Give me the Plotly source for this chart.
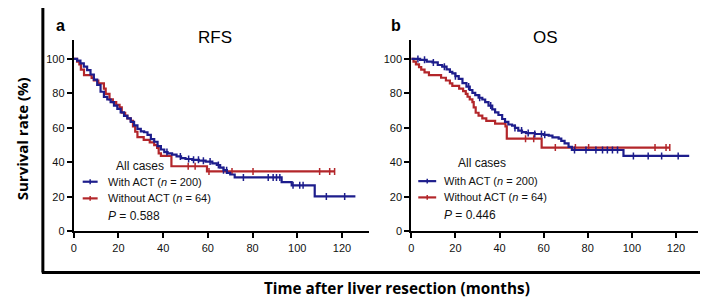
import plotly.graph_objects as go

W, H = 708, 298
BLUE = "#1d1d8c"
RED = "#b3262a"

# ---------------- data ----------------
# Panel a: RFS
rfs_with_t = [0, 1.5, 3, 4.5, 6, 7.5, 9, 10.5, 12, 13.5, 15, 16.5, 18, 19.5, 21, 22.5, 24, 25.5, 27,
              28.5, 30, 31.5, 33, 34.5, 36, 37.5, 39, 40.5, 42, 44, 46, 48, 50, 53, 56, 59, 62, 64,
              65.5, 67, 68.5, 70, 72, 93, 97.5, 107.8, 126]
rfs_with_s = [100, 99, 97.5, 95.5, 93.5, 91, 88, 85, 81, 78, 76.5, 75, 73, 71, 69, 67, 65.5, 63.5, 61.5,
              59.5, 58, 57.5, 56, 53.5, 52, 49.5, 47.5, 46, 45.3, 44.5, 43.5, 42.5, 42, 41.5, 41, 40.5,
              39.5, 38.5, 37, 35.5, 34, 33, 31.3, 28.6, 26.7, 20.3, 20.3]
rfs_with_cens = [41.7, 47.7, 51.4, 53.6, 55.8, 58, 61, 64.7, 67, 68.4, 75.9, 87, 89.2, 90.7, 92.2,
                 98.1, 101.1, 102.6, 113, 121.2]

rfs_without_t = [0, 1.5, 2.5, 3.2, 4.6, 8, 9, 11, 13.5, 14.3, 16, 17.5, 19, 20.5, 21.5, 23, 24, 25.5,
                 26.5, 27.5, 28.5, 31.3, 34, 36, 37.3, 38, 39, 43.7, 59.6, 116.7]
rfs_without_s = [100, 98.4, 96.9, 93.8, 90.6, 89, 87.5, 85.9, 82.8, 79.7, 76.6, 75, 73.4, 71.9, 68.8,
                 67.2, 65.6, 64.1, 60.9, 57.8, 54.7, 53.1, 51.6, 50, 48.4, 45.3, 43.8, 37.8, 34.8, 34.8]
rfs_without_cens = [51.2, 54.3, 60.5, 70.8, 80.2, 110, 114.5, 116.7]

# Panel b: OS
os_with_t = [0, 4, 7, 9.6, 12, 14, 16, 17.5, 18.6, 20, 21.5, 23.2, 25, 26.5, 27.7, 29, 30.5, 32.2, 33.5,
             35, 36.7, 38, 39.5, 41.2, 42.5, 44, 45.7, 47, 48.5, 50.2, 52, 56, 60, 62.3, 64, 66.8, 68,
             69.5, 71.3, 72.8, 96.2, 126]
os_with_s = [100, 99.5, 98.5, 98, 96.5, 95.5, 94, 92.5, 91.7, 90, 88.5, 86, 84, 82, 80.3, 79, 77.5, 76.5,
             75, 73, 70.8, 69, 67.5, 65.2, 63.5, 62, 61.4, 60, 58.5, 57.6, 57, 56.5, 56, 55.5, 54.5,
             53.8, 52.5, 51, 49, 47.2, 43.75, 43.75]
os_with_cens = [3, 6, 10, 15, 20, 26, 31, 36, 47, 50, 53, 56, 59, 60.5, 74, 79.2, 83.7, 86.7, 88.9,
                91.2, 93.5, 100.7, 107.4, 113.5, 121]

os_without_t = [0, 1, 2.1, 3.5, 4.5, 6, 8, 13.5, 15.7, 17.5, 18.6, 21.7, 23.5, 24.7, 25.5, 26.5, 27.7,
                28.3, 29.2, 30.5, 32.2, 34, 38, 42.7, 43.3, 59.1, 117.2]
os_without_s = [100, 98.4, 96.9, 95.3, 93.8, 92.2, 90.6, 89.1, 87.5, 85.9, 84.4, 82.8, 81.3, 79.7, 78.1,
                76.6, 75, 71.9, 68.8, 67.2, 65.6, 64.1, 62.5, 60.9, 53.8, 48.6, 48.6]
os_without_cens = [51.8, 55.5, 65.3, 74.4, 80.4, 110.5, 115.5, 117.2]

x_ticks = [0, 20, 40, 60, 80, 100, 120]
y_ticks = [0, 20, 40, 60, 80, 100]
legend_labels = ["With ACT (<i>n</i> = 200)", "Without ACT (<i>n</i> = 64)"]
p_values = ["0.588", "0.446"]
titles = ["RFS", "OS"]
panel_letters = ["a", "b"]


def surv_at(ts, ss, t):
    val = ss[0]
    for ti, si in zip(ts, ss):
        if ti <= t:
            val = si
    return val


def px(x):
    return x / W


def py(y):
    return 1 - y / H


fig = go.Figure()

panels = [
    (rfs_with_t, rfs_with_s, rfs_with_cens, rfs_without_t, rfs_without_s, rfs_without_cens, "x", "y"),
    (os_with_t, os_with_s, os_with_cens, os_without_t, os_without_s, os_without_cens, "x2", "y2"),
]

for (wt, ws, wc, ot, os_, oc, xa, ya) in panels:
    for t, s, c, col in [(ot, os_, oc, RED), (wt, ws, wc, BLUE)]:
        fig.add_trace(go.Scatter(x=t, y=s, mode="lines", line=dict(color=col, width=2.2, shape="hv"),
                                 xaxis=xa, yaxis=ya, showlegend=False, hoverinfo="skip"))
        fig.add_trace(go.Scatter(x=c, y=[surv_at(t, s, ci) for ci in c], mode="markers",
                                 marker=dict(symbol="line-ns", size=5, line=dict(color=col, width=1.5)),
                                 xaxis=xa, yaxis=ya, showlegend=False, hoverinfo="skip"))

tickfont = dict(family="Arial, Liberation Sans, sans-serif", size=11, color="#111")
axcommon = dict(showline=True, linecolor="black", linewidth=2, ticks="outside", ticklen=5, tickwidth=2,
                tickcolor="black", showgrid=False, zeroline=False, tickfont=tickfont)
ydom = [py(228), py(33)]
fig.update_layout(
    width=W, height=H, margin=dict(l=0, r=0, t=0, b=0),
    paper_bgcolor="white", plot_bgcolor="white",
    xaxis=dict(domain=[px(63), px(63 + 132 * 2.245)], range=[0, 132], tickvals=x_ticks, anchor="y", **axcommon),
    yaxis=dict(domain=ydom, range=[0, 110.8], tickvals=y_ticks, anchor="x", **axcommon),
    xaxis2=dict(domain=[px(402), px(402 + 130 * 2.215)], range=[0, 130], tickvals=x_ticks, anchor="y2", **axcommon),
    yaxis2=dict(domain=ydom, range=[0, 110.8], tickvals=y_ticks, anchor="x2", **axcommon),
)

shapes = [
    dict(type="line", xref="paper", yref="paper", x0=px(32), x1=px(32), y0=py(0), y1=py(270),
         line=dict(color="black", width=3)),
    dict(type="line", xref="paper", yref="paper", x0=px(31), x1=px(708), y0=py(270), y1=py(270),
         line=dict(color="black", width=3)),
]
ann = []
textfont = dict(family="Arial, Liberation Sans, sans-serif", color="#111")

layouts = [
    dict(letter=(50, 18), title=(205, 30), allc=(103, 161), line=(72, 87), text_x=95.7,
         rows=(177.3, 194.3), p=(95.7, 212.7)),
    dict(letter=(387, 18), title=(537, 30), allc=(447, 158), line=(409, 427), text_x=433.3,
         rows=(176.7, 193.3), p=(433, 211.7)),
]
for i, L in enumerate(layouts):
    ann.append(dict(text="<b>%s</b>" % panel_letters[i], x=px(L["letter"][0]), y=py(L["letter"][1]),
                    xref="paper", yref="paper", showarrow=False, xanchor="center", yanchor="middle",
                    font=dict(size=16, family="Arial, Liberation Sans, sans-serif", color="black")))
    ann.append(dict(text=titles[i], x=px(L["title"][0]), y=py(L["title"][1]),
                    xref="paper", yref="paper", showarrow=False, xanchor="center", yanchor="middle",
                    font=dict(size=17, family="Arial, Liberation Sans, sans-serif", color="black")))
    ann.append(dict(text="All cases", x=px(L["allc"][0]), y=py(L["allc"][1]),
                    xref="paper", yref="paper", showarrow=False, xanchor="left", yanchor="middle",
                    font=dict(size=12, **textfont)))
    for j, col in enumerate([BLUE, RED]):
        yy = L["rows"][j]
        x0, x1 = L["line"]
        shapes.append(dict(type="line", xref="paper", yref="paper", x0=px(x0), x1=px(x1),
                           y0=py(yy), y1=py(yy), line=dict(color=col, width=2.2)))
        xm = (x0 + x1) / 2
        shapes.append(dict(type="line", xref="paper", yref="paper", x0=px(xm), x1=px(xm),
                           y0=py(yy - 2.5), y1=py(yy + 2.5), line=dict(color=col, width=1.5)))
        ann.append(dict(text=legend_labels[j], x=px(L["text_x"]), y=py(yy),
                        xref="paper", yref="paper", showarrow=False, xanchor="left", yanchor="middle",
                        font=dict(size=11, **textfont)))
    ann.append(dict(text="<i>P</i> = %s" % p_values[i], x=px(L["p"][0]), y=py(L["p"][1]),
                    xref="paper", yref="paper", showarrow=False, xanchor="left", yanchor="middle",
                    font=dict(size=12, **textfont)))

ann.append(dict(text="<b>Time after liver resection (months)</b>", x=px(388), y=py(286),
                xref="paper", yref="paper", showarrow=False, xanchor="center", yanchor="middle",
                borderpad=0,
                font=dict(size=15.3, family="Open Sans, sans-serif", color="black")))
ann.append(dict(text="<b>Survival rate (%)</b>", x=px(11), y=py(133), textangle=-90,
                xref="paper", yref="paper", showarrow=False, xanchor="center", yanchor="middle",
                borderpad=0,
                font=dict(size=15, family="Open Sans, sans-serif", color="black")))

fig.update_layout(shapes=shapes, annotations=ann)
fig.write_html("out.html")
